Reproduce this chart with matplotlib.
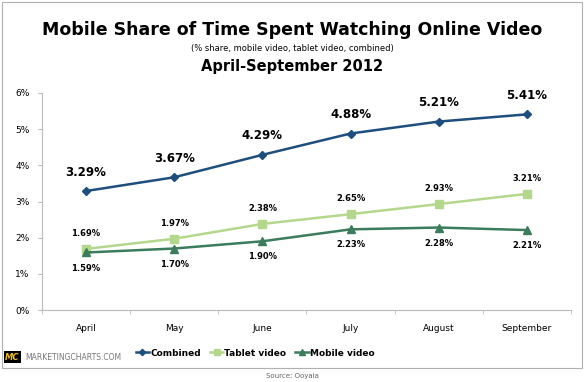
import matplotlib.pyplot as plt
from matplotlib.patches import Rectangle
import numpy as np

plt.rcParams['font.family'] = ['Verdana', 'DejaVu Sans']

months = ['April', 'May', 'June', 'July', 'August', 'September']
combined = [3.29, 3.67, 4.29, 4.88, 5.21, 5.41]
tablet = [1.69, 1.97, 2.38, 2.65, 2.93, 3.21]
mobile = [1.59, 1.70, 1.90, 2.23, 2.28, 2.21]

c_comb = '#1d4e7e'
c_tab = '#b3d88c'
c_mob = '#3b7c5c'

fig = plt.figure(figsize=(5.85, 3.82), dpi=100)
W, H = 585, 382

# outer frame
fig.patches.append(Rectangle((2 / W, 1 - 368 / H), 580 / W, 366 / H, transform=fig.transFigure,
                             fill=False, edgecolor='#b0b0b0', lw=0.8))

ax = fig.add_axes([42 / W, 1 - 310 / H, 529 / W, 217 / H])
x = np.arange(len(months))

ax.plot(x, combined, color=c_comb, lw=1.8, marker='D', ms=4, label='Combined')
ax.plot(x, tablet, color=c_tab, lw=1.8, marker='s', ms=5.5, label='Tablet video')
ax.plot(x, mobile, color=c_mob, lw=1.8, marker='^', ms=5.5, label='Mobile video')

for i in x:
    ax.annotate('%.2f%%' % combined[i], (i, combined[i]), xytext=(0, 9), textcoords='offset points',
                ha='center', va='bottom', fontsize=8.5, fontweight='bold')
    ax.annotate('%.2f%%' % tablet[i], (i, tablet[i]), xytext=(0, 8), textcoords='offset points',
                ha='center', va='bottom', fontsize=6, fontweight='bold')
    ax.annotate('%.2f%%' % mobile[i], (i, mobile[i]), xytext=(0, -8), textcoords='offset points',
                ha='center', va='top', fontsize=6, fontweight='bold')

ax.set_xlim(-0.5, len(months) - 0.5)
ax.set_ylim(0, 6)
ax.set_yticks(range(0, 7))
ax.set_yticklabels(['%d%%' % v for v in range(0, 7)])
ax.set_xticks(x)
ax.set_xticklabels(months)
ax.set_xticks(np.arange(-0.5, len(months)), minor=True)
ax.tick_params(axis='x', which='major', length=0, pad=10, labelsize=6.5)
ax.tick_params(axis='x', which='minor', length=3, color='#bbbbbb')
ax.tick_params(axis='y', length=3, color='#bbbbbb', labelsize=6.5, pad=6)
for s in ['top', 'right']:
    ax.spines[s].set_visible(False)
for s in ['left', 'bottom']:
    ax.spines[s].set_color('#bbbbbb')

fig.legend(loc='center', bbox_to_anchor=(255 / W, 1 - 353 / H), ncol=3, frameon=False,
           prop={'size': 6.5, 'weight': 'bold'}, handlelength=1.5, columnspacing=1.0,
           handletextpad=0.1, markerscale=0.8)

fig.text(0.5, 1 - 30 / H, 'Mobile Share of Time Spent Watching Online Video', ha='center', va='center',
         fontsize=12.5, fontweight='bold')
fig.text(0.5, 1 - 48 / H, '(% share, mobile video, tablet video, combined)', ha='center', va='center',
         fontsize=6)
fig.text(0.5, 1 - 66 / H, 'April-September 2012', ha='center', va='center', fontsize=10.5,
         fontweight='bold')

fig.text(12 / W, 1 - 357 / H, 'MC', ha='center', va='center', fontsize=6, fontweight='bold',
         style='italic', color='#f0c020',
         bbox=dict(boxstyle='square,pad=0.15', facecolor='black', edgecolor='none'))
fig.text(25 / W, 1 - 357 / H, 'MARKETINGCHARTS.COM', ha='left', va='center', fontsize=5.5, color='#777777')
fig.text(0.5, 1 - 376 / H, 'Source: Ooyala', ha='center', va='center', fontsize=5, color='#666666')

fig.savefig('out.png', dpi=100)
